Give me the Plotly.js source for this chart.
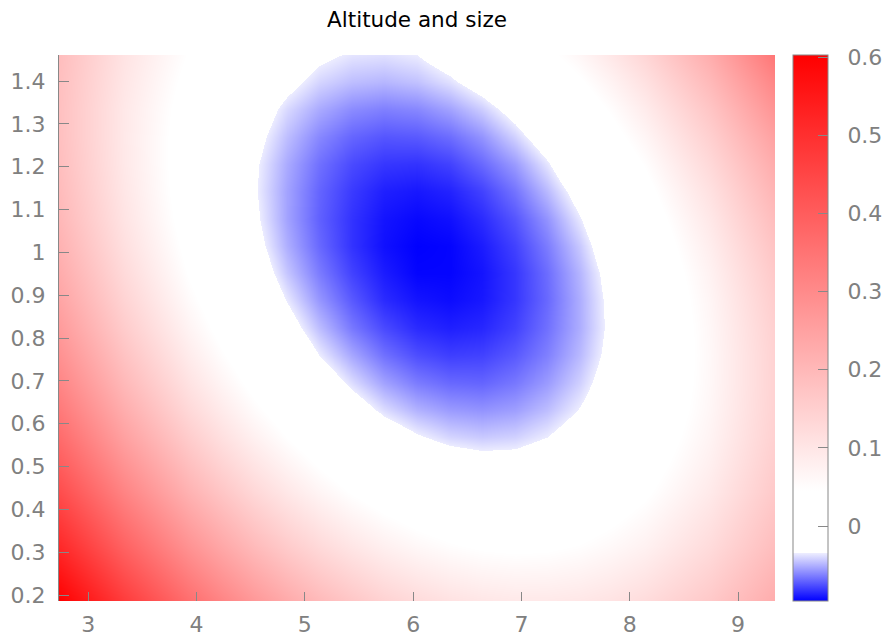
<!DOCTYPE html>
<html>
<head>
<meta charset="utf-8">
<script src="https://cdn.plot.ly/plotly-3.0.1.min.js"></script>
<style>html,body{margin:0;padding:0;background:#fff;}#chart{width:885px;height:636px;}</style>
</head>
<body>
<div id="chart"></div>
<script>
// Grid positions (x: size, y: altitude)
const xValues = [2.730, 3.331, 3.932, 4.233, 4.533, 4.834, 5.134, 5.435, 5.735, 6.036, 6.336, 6.637, 6.937, 7.238, 7.538, 7.839, 8.139, 8.740, 9.341];
const yValues = [0.186, 0.314, 0.441, 0.505, 0.569, 0.633, 0.696, 0.760, 0.824, 0.888, 0.951, 1.015, 1.079, 1.143, 1.206, 1.270, 1.334, 1.398, 1.461];
// Estimated values, one row per y value (bottom to top)
const zRow0  = [0.603, 0.473, 0.362, 0.313, 0.270, 0.231, 0.197, 0.168, 0.143, 0.124, 0.109, 0.099, 0.094, 0.094, 0.098, 0.107, 0.122, 0.164, 0.226];
const zRow1  = [0.514, 0.388, 0.282, 0.236, 0.195, 0.158, 0.127, 0.100, 0.078, 0.061, 0.049, 0.041, 0.038, 0.040, 0.047, 0.059, 0.075, 0.123, 0.189];
const zRow2  = [0.436, 0.315, 0.213, 0.170, 0.131, 0.097, 0.068, 0.043, 0.024, 0.009, -0.001, -0.007, -0.007, -0.003, 0.007, 0.021, 0.040, 0.092, 0.163];
const zRow3  = [0.400, 0.282, 0.183, 0.140, 0.103, 0.070, 0.042, 0.019, 0.000, -0.014, -0.022, -0.026, -0.026, -0.020, -0.010, 0.006, 0.026, 0.080, 0.154];
const zRow4  = [0.368, 0.251, 0.155, 0.113, 0.077, 0.045, 0.019, -0.004, -0.021, -0.033, -0.041, -0.044, -0.042, -0.035, -0.023, -0.007, 0.015, 0.071, 0.147];
const zRow5  = [0.338, 0.224, 0.129, 0.089, 0.054, 0.024, -0.002, -0.023, -0.039, -0.050, -0.056, -0.058, -0.055, -0.047, -0.034, -0.017, 0.006, 0.065, 0.144];
const zRow6  = [0.311, 0.199, 0.107, 0.068, 0.034, 0.005, -0.020, -0.039, -0.054, -0.064, -0.069, -0.070, -0.065, -0.056, -0.042, -0.023, 0.000, 0.062, 0.143];
const zRow7  = [0.286, 0.177, 0.087, 0.049, 0.017, -0.012, -0.035, -0.053, -0.067, -0.076, -0.080, -0.079, -0.073, -0.063, -0.048, -0.028, -0.003, 0.061, 0.144];
const zRow8  = [0.264, 0.157, 0.070, 0.033, 0.002, -0.025, -0.047, -0.065, -0.077, -0.085, -0.088, -0.086, -0.079, -0.067, -0.051, -0.030, -0.004, 0.063, 0.148];
const zRow9  = [0.244, 0.140, 0.055, 0.020, -0.011, -0.036, -0.057, -0.073, -0.085, -0.091, -0.093, -0.090, -0.082, -0.069, -0.051, -0.029, -0.002, 0.067, 0.155];
const zRow10 = [0.228, 0.126, 0.043, 0.009, -0.020, -0.045, -0.064, -0.079, -0.089, -0.095, -0.095, -0.091, -0.082, -0.068, -0.049, -0.026, 0.003, 0.074, 0.164];
const zRow11 = [0.214, 0.114, 0.034, 0.001, -0.027, -0.051, -0.069, -0.083, -0.092, -0.096, -0.095, -0.089, -0.079, -0.064, -0.044, -0.019, 0.010, 0.084, 0.176];
const zRow12 = [0.202, 0.105, 0.027, -0.005, -0.031, -0.054, -0.071, -0.083, -0.091, -0.094, -0.092, -0.085, -0.074, -0.058, -0.036, -0.011, 0.020, 0.096, 0.191];
const zRow13 = [0.194, 0.099, 0.023, -0.007, -0.033, -0.054, -0.070, -0.081, -0.088, -0.090, -0.087, -0.079, -0.066, -0.048, -0.026, 0.001, 0.033, 0.111, 0.209];
const zRow14 = [0.188, 0.095, 0.022, -0.008, -0.032, -0.052, -0.067, -0.077, -0.082, -0.083, -0.079, -0.069, -0.056, -0.037, -0.013, 0.015, 0.048, 0.129, 0.228];
const zRow15 = [0.184, 0.094, 0.023, -0.005, -0.028, -0.047, -0.061, -0.070, -0.074, -0.073, -0.068, -0.058, -0.042, -0.023, 0.002, 0.032, 0.066, 0.149, 0.251];
const zRow16 = [0.183, 0.095, 0.027, 0.000, -0.022, -0.040, -0.052, -0.060, -0.063, -0.061, -0.054, -0.043, -0.027, -0.005, 0.020, 0.051, 0.087, 0.172, 0.280];
const zRow17 = [0.185, 0.100, 0.034, 0.008, -0.013, -0.029, -0.041, -0.047, -0.049, -0.046, -0.038, -0.026, -0.008, 0.014, 0.041, 0.073, 0.110, 0.198, 0.310];
const zRow18 = [0.189, 0.106, 0.043, 0.018, -0.002, -0.020, -0.031, -0.037, -0.038, -0.035, -0.025, -0.006, 0.013, 0.036, 0.064, 0.098, 0.135, 0.225, 0.345];

const xTickVals = [3, 4, 5, 6, 7, 8, 9];
const xTickText = ['3', '4', '5', '6', '7', '8', '9'];
const yTickVals = [0.2, 0.3, 0.4, 0.5, 0.6, 0.7, 0.8, 0.9, 1.0, 1.1, 1.2, 1.3, 1.4];
const yTickText = ['0.2', '0.3', '0.4', '0.5', '0.6', '0.7', '0.8', '0.9', '1', '1.1', '1.2', '1.3', '1.4'];
const cTickVals = [0, 0.1, 0.2, 0.3, 0.4, 0.5, 0.6];
const cTickText = ['0', '0.1', '0.2', '0.3', '0.4', '0.5', '0.6'];
const zLow = -0.096, zHigh = 0.603;
const whiteFrom = -0.035, whiteTo = 0.045;

const zMatrix = [zRow0, zRow1, zRow2, zRow3, zRow4, zRow5, zRow6, zRow7, zRow8, zRow9,
                 zRow10, zRow11, zRow12, zRow13, zRow14, zRow15, zRow16, zRow17, zRow18];

// Colour scale: blue -> pale blue, white band, white -> red
const span = zHigh - zLow;
const pBlue = (whiteFrom - zLow) / span;
const pWhite = (whiteTo - zLow) / span;
const colorscale = [
  [0, 'rgb(0,0,255)'],
  [pBlue, 'rgb(236,236,255)'],
  [pBlue, 'rgb(255,255,255)'],
  [pWhite, 'rgb(255,255,255)'],
  [1, 'rgb(255,0,0)']
];

const grey = '#808080';
const font = 'DejaVu Sans, sans-serif';
const pad = '\u00a0\u00a0';

const trace = {
  type: 'heatmap',
  x: xValues,
  y: yValues,
  z: zMatrix,
  zsmooth: 'best',
  zmin: zLow,
  zmax: zHigh,
  colorscale: colorscale,
  hoverinfo: 'x+y+z',
  colorbar: {
    x: 1.025, xanchor: 'left', xref: 'paper',
    y: 0.5, yanchor: 'middle', len: 1, lenmode: 'fraction',
    thickness: 35, thicknessmode: 'pixels',
    xpad: 0, ypad: 0,
    outlinecolor: '#888', outlinewidth: 1,
    ticks: 'inside', ticklen: 10, tickcolor: '#888', tickwidth: 1,
    tickvals: cTickVals, ticktext: cTickText.map(t => pad + t),
    tickfont: {family: font, size: 22, color: grey}
  }
};

const layout = {
  width: 885, height: 636,
  margin: {l: 59, r: 110, t: 55, b: 35, pad: 0, autoexpand: false},
  paper_bgcolor: '#fff', plot_bgcolor: '#fff',
  font: {family: font, color: grey},
  title: {
    text: 'Altitude and size',
    font: {family: font, size: 21.5, color: '#000'},
    x: 0.5, xref: 'paper', xanchor: 'center',
    y: 1 - 19 / 636, yref: 'container', yanchor: 'middle'
  },
  xaxis: {
    range: [xValues[0], xValues[xValues.length - 1]],
    tickvals: xTickVals, ticktext: xTickText,
    ticks: 'inside', ticklen: 9, tickcolor: '#888', tickwidth: 1,
    showline: false, showgrid: false, zeroline: false,
    ticklabelstandoff: 8,
    tickfont: {family: font, size: 22, color: grey}
  },
  yaxis: {
    range: [yValues[0], yValues[yValues.length - 1]],
    tickvals: yTickVals, ticktext: yTickText,
    ticks: 'inside', ticklen: 10, tickcolor: '#888', tickwidth: 1,
    showline: true, linecolor: '#888', linewidth: 1,
    showgrid: false, zeroline: false,
    ticklabelstandoff: 8,
    tickfont: {family: font, size: 22, color: grey}
  }
};

Plotly.newPlot('chart', [trace], layout, {displayModeBar: false, staticPlot: true});
</script>
</body>
</html>
